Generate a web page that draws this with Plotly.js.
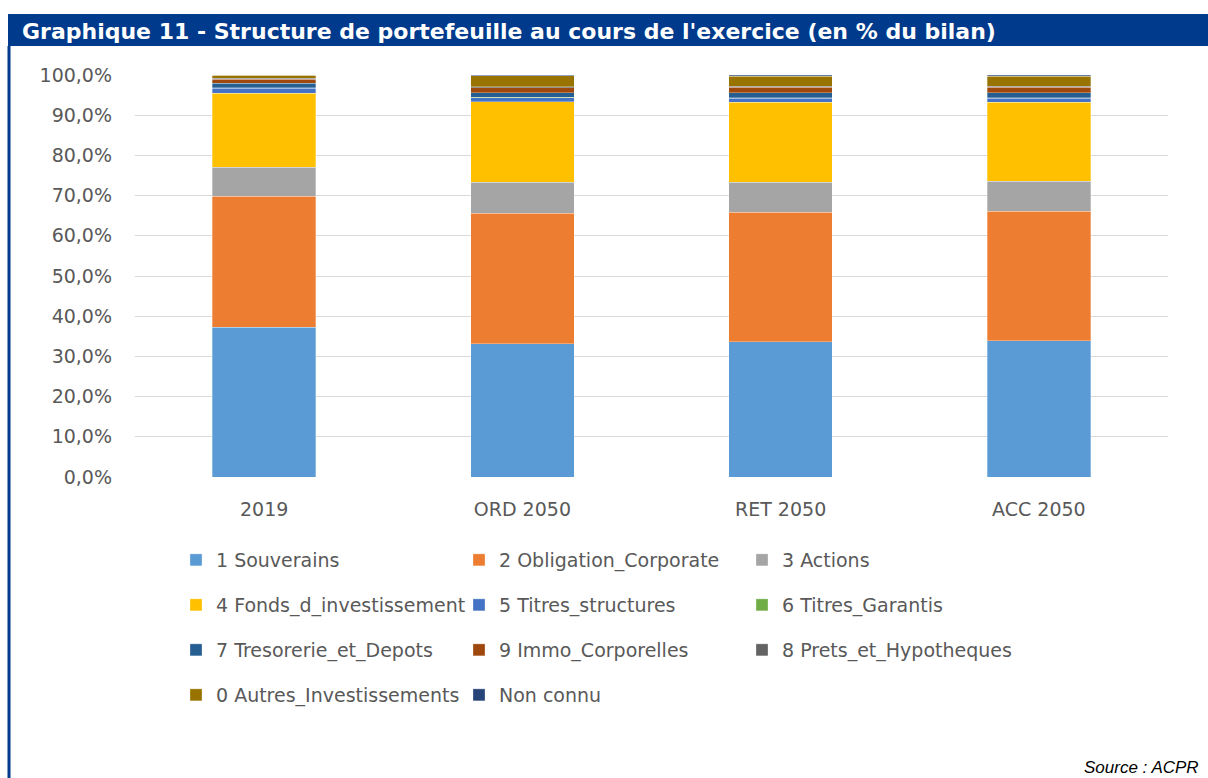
<!DOCTYPE html>
<html>
<head>
<meta charset="utf-8">
<script src="https://cdn.plot.ly/plotly-3.0.1.min.js"></script>
<style>html,body{margin:0;padding:0;background:#fff;}#chart{width:1208px;height:778px;}</style>
</head>
<body>
<div id="chart"></div>
<script>
// ---- Data (percent of balance sheet) ----
var categories = ["2019", "ORD 2050", "RET 2050", "ACC 2050"];
var souverains        = [37.2, 33.2, 33.7, 33.9];
var obligationCorp    = [32.6, 32.4, 32.1, 32.2];
var actions           = [7.3, 7.7, 7.5, 7.5];
var fondsInvest       = [18.4, 20.1, 19.9, 19.6];
var titresStructures  = [1.2, 1.0, 1.0, 1.0];
var titresGarantis    = [0.1, 0.1, 0.2, 0.2];
var tresorerieDepots  = [1.1, 1.1, 1.2, 1.2];
var immoCorporelles   = [1.0, 1.2, 1.3, 1.3];
var pretsHypotheques  = [0.3, 0.3, 0.3, 0.3];
var autresInvest      = [0.7, 2.7, 2.5, 2.5];
var nonConnu          = [0.1, 0.2, 0.3, 0.3];
var yTicks = [0, 10, 20, 30, 40, 50, 60, 70, 80, 90, 100];
var yTickLabels = ["0,0%", "10,0%", "20,0%", "30,0%", "40,0%", "50,0%", "60,0%", "70,0%", "80,0%", "90,0%", "100,0%"];

var seriesNames = ["1 Souverains", "2 Obligation_Corporate", "3 Actions",
  "4 Fonds_d_investissement", "5 Titres_structures", "6 Titres_Garantis",
  "7 Tresorerie_et_Depots", "9 Immo_Corporelles", "8 Prets_et_Hypotheques",
  "0 Autres_Investissements", "Non connu"];
var seriesValues = [souverains, obligationCorp, actions, fondsInvest, titresStructures,
  titresGarantis, tresorerieDepots, immoCorporelles, pretsHypotheques, autresInvest, nonConnu];
var seriesColors = ["#5B9BD5", "#ED7D31", "#A5A5A5", "#FFC000", "#4472C4", "#70AD47",
  "#255E91", "#9E480E", "#636363", "#997300", "#264478"];
var legendOf = ["legend", "legend", "legend", "legend2", "legend2", "legend2",
  "legend3", "legend3", "legend3", "legend4", "legend4"];

var FONT = "'DejaVu Sans', 'Open Sans', sans-serif";
var W = 1208, H = 778;
var L = 135, R = 40, T = 75, B = 301;
var pw = W - L - R, ph = H - T - B;
function px(x) { return (x - L) / pw; }
function py(y) { return (H - B - y) / ph; }

var traces = seriesNames.map(function (n, i) {
  return {
    type: "bar", name: n, x: categories, y: seriesValues[i],
    marker: { color: seriesColors[i], line: { color: "rgba(255,255,255,0.6)", width: 0.5 } },
    legend: legendOf[i], hoverinfo: "name+y"
  };
});

function leg(yc) {
  return {
    orientation: "h", xref: "container", yref: "container",
    x: 176 / W, xanchor: "left", y: 1 - yc / H, yanchor: "middle",
    entrywidth: 238, entrywidthmode: "pixels", itemwidth: 30,
    font: { family: FONT, size: 19, color: "#595959" }, traceorder: "normal",
    bgcolor: "rgba(0,0,0,0)", itemclick: false, itemdoubleclick: false
  };
}

var layout = {
  width: W, height: H,
  margin: { l: L, r: R, t: T, b: B },
  paper_bgcolor: "#fff", plot_bgcolor: "#fff",
  barmode: "stack", bargap: 0.6,
  title: {
    text: "<b>Graphique 11 - Structure de portefeuille au cours de l'exercice (en % du bilan)</b>",
    font: { family: "'DejaVu Sans', 'Liberation Sans', sans-serif", size: 22, color: "#ffffff" },
    xref: "container", yref: "container", x: 22 / W, xanchor: "left",
    y: 1 - 31 / H, yanchor: "middle"
  },
  xaxis: {
    tickfont: { family: FONT, size: 19, color: "#595959" },
    showgrid: false, showline: false, ticks: "", ticklabelstandoff: 19
  },
  yaxis: {
    range: [0, 100], tickvals: yTicks, ticktext: yTickLabels,
    tickfont: { family: FONT, size: 19, color: "#595959" },
    gridcolor: "#D9D9D9", gridwidth: 1, zeroline: false, showline: false,
    ticklabelstandoff: 22
  },
  legend: leg(560), legend2: leg(605), legend3: leg(650), legend4: leg(695),
  shapes: [
    { type: "rect", xref: "paper", yref: "paper", x0: px(8), x1: px(1208), y0: py(14), y1: py(46),
      fillcolor: "#003A8C", line: { width: 0 }, layer: "below" },
    { type: "line", xref: "paper", yref: "paper", x0: px(9), x1: px(9), y0: py(46), y1: py(778),
      line: { color: "#003A8C", width: 3 } }
  ],
  annotations: [
    { text: "<i>Source : ACPR</i>", xref: "paper", yref: "paper", x: px(1201), y: py(767),
      xanchor: "right", yanchor: "middle", showarrow: false,
      font: { family: "'Liberation Sans', Arial, sans-serif", size: 17, color: "#000" } }
  ]
};

Plotly.newPlot("chart", traces, layout, { displayModeBar: false, staticPlot: true });
</script>
</body>
</html>
